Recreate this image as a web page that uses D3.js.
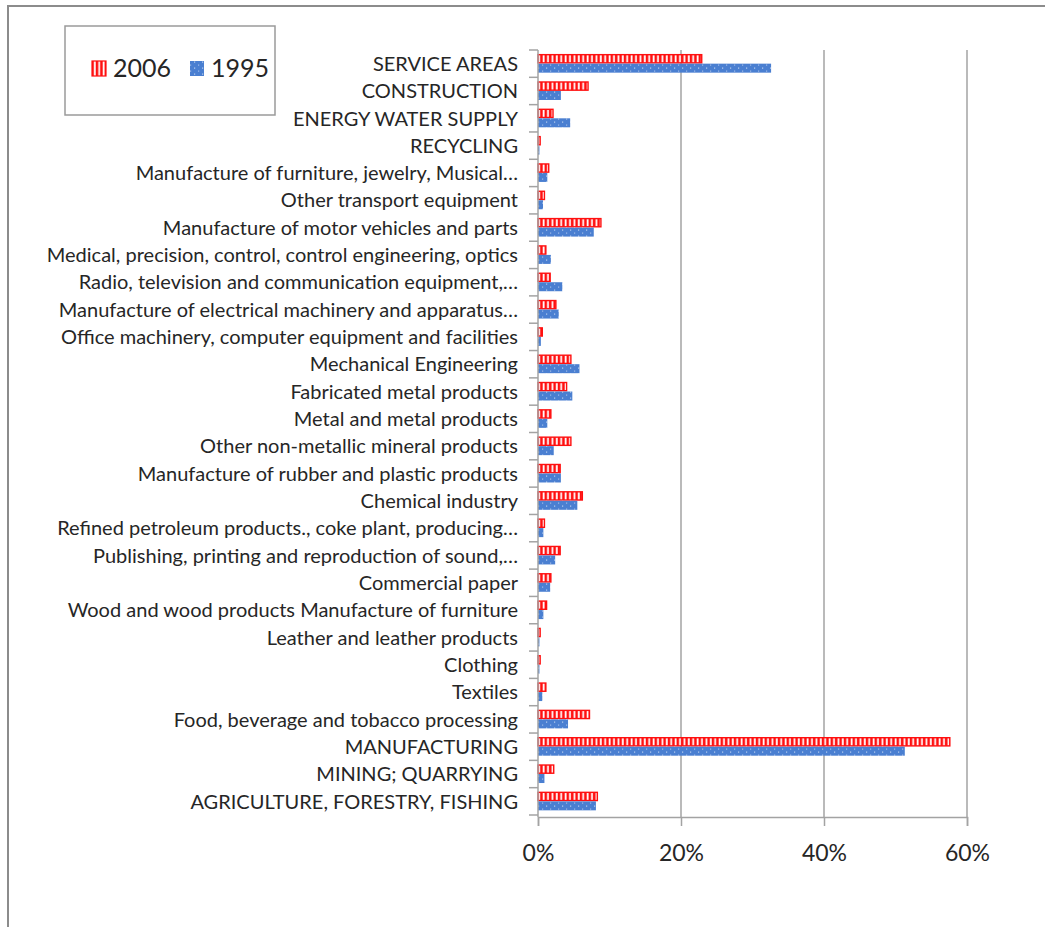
<!DOCTYPE html>
<html>
<head>
<meta charset="utf-8">
<script src="https://cdn.jsdelivr.net/npm/d3@7"></script>
<style>
  html, body { margin: 0; padding: 0; background: #fff; }
  svg { display: block; }
  text { font-family: Lato, "Open Sans", sans-serif; fill: #262626; }
</style>
</head>
<body>
<svg id="chart" width="1045" height="927"></svg>
<script>
// Industry categories, listed top to bottom
const categories = [
  "SERVICE AREAS",
  "CONSTRUCTION",
  "ENERGY WATER SUPPLY",
  "RECYCLING",
  "Manufacture of furniture, jewelry, Musical\u2026",
  "Other transport equipment",
  "Manufacture of motor vehicles and parts",
  "Medical, precision, control, control engineering, optics",
  "Radio, television and communication equipment,\u2026",
  "Manufacture of electrical machinery and apparatus\u2026",
  "Office machinery, computer equipment and facilities",
  "Mechanical Engineering",
  "Fabricated metal products",
  "Metal and metal products",
  "Other non-metallic mineral products",
  "Manufacture of rubber and plastic products",
  "Chemical industry",
  "Refined petroleum products., coke plant, producing\u2026",
  "Publishing, printing and reproduction of sound,\u2026",
  "Commercial paper",
  "Wood and wood products Manufacture of furniture",
  "Leather and leather products",
  "Clothing",
  "Textiles",
  "Food, beverage and tobacco processing",
  "MANUFACTURING",
  "MINING; QUARRYING",
  "AGRICULTURE, FORESTRY, FISHING"
];

// Share of total (%) in 2006
const values2006 = [
  22.9, 7.0, 2.1, 0.3, 1.5, 0.9, 8.8, 1.1, 1.7, 2.5,
  0.6, 4.6, 4.0, 1.8, 4.6, 3.1, 6.2, 0.9, 3.1, 1.8,
  1.2, 0.3, 0.3, 1.1, 7.2, 57.6, 2.2, 8.3
];

// Share of total (%) in 1995
const values1995 = [
  32.6, 3.2, 4.5, 0.2, 1.3, 0.7, 7.8, 1.8, 3.4, 2.9,
  0.4, 5.8, 4.8, 1.3, 2.2, 3.2, 5.5, 0.75, 2.4, 1.7,
  0.75, 0.2, 0.2, 0.6, 4.2, 51.3, 0.9, 8.1
];

const xTicks = [0, 20, 40, 60];
const seriesNames = ["2006", "1995"];

const svg = d3.select("#chart");
const gridColor = "#a3a3a3";
const red = "#ff1010";
const blue = "#4a7fd1";

// Fill patterns: red vertical stripes and dotted blue
const defs = svg.append("defs");
const pRed = defs.append("pattern")
  .attr("id", "stripes").attr("patternUnits", "userSpaceOnUse")
  .attr("width", 4.4).attr("height", 10);
pRed.append("rect").attr("width", 4.4).attr("height", 10).attr("fill", red);
pRed.append("rect").attr("x", 1.5).attr("width", 1.8).attr("height", 10).attr("fill", "#fff");

const pBlue = defs.append("pattern")
  .attr("id", "dots").attr("patternUnits", "userSpaceOnUse")
  .attr("width", 8).attr("height", 6);
pBlue.append("rect").attr("width", 8).attr("height", 6).attr("fill", blue);
pBlue.append("rect").attr("x", 2).attr("y", 1.5).attr("width", 1.2).attr("height", 1.2).attr("fill", "#b8cdee");
pBlue.append("rect").attr("x", 6).attr("y", 4.5).attr("width", 1.2).attr("height", 1.2).attr("fill", "#9fbbe8");

// Outer frame
svg.append("path")
  .attr("d", "M8,927 V6 H1045")
  .attr("fill", "none").attr("stroke", "#8c8c8c").attr("stroke-width", 2);

// Scales
const x = d3.scaleLinear().domain([0, 60]).range([538, 967]);
const y = d3.scaleBand().domain(categories).range([50, 815]).paddingInner(0).paddingOuter(0);
const barH = 9;

// Vertical gridlines
svg.append("g").selectAll("line")
  .data(xTicks.filter(t => t > 0))
  .join("line")
  .attr("x1", d => x(d)).attr("x2", d => x(d))
  .attr("y1", 50).attr("y2", 817)
  .attr("stroke", gridColor).attr("stroke-width", 1.5);

// Bars
const rows = categories.map((c, i) => ({ c, v06: values2006[i], v95: values1995[i] }));
const center = c => y(c) + y.bandwidth() / 2;

svg.append("g").selectAll("rect")
  .data(rows).join("rect")
  .attr("x", x(0))
  .attr("y", d => center(d.c) - barH)
  .attr("width", d => x(d.v06) - x(0))
  .attr("height", barH - 0.8)
  .attr("fill", "url(#stripes)")
  .attr("stroke", red).attr("stroke-width", 1.4);

svg.append("g").selectAll("rect")
  .data(rows).join("rect")
  .attr("x", x(0))
  .attr("y", d => center(d.c))
  .attr("width", d => x(d.v95) - x(0))
  .attr("height", barH)
  .attr("fill", "url(#dots)");

// Bottom axis
const xAxis = d3.axisBottom(x).tickValues(xTicks).tickFormat(d => d + "%")
  .tickSize(9).tickPadding(19);
const gx = svg.append("g").attr("transform", "translate(0,817)").call(xAxis);
gx.select(".domain").attr("stroke", gridColor).attr("stroke-width", 1.5);
gx.selectAll(".tick line").attr("stroke", gridColor).attr("stroke-width", 1.5);
gx.selectAll(".tick text")
  .attr("font-family", "Lato, sans-serif").attr("font-size", 23).attr("fill", "#262626");

// Left category axis (ticks at band boundaries)
const gy = svg.append("g").attr("transform", "translate(538,0)");
gy.append("line").attr("y1", 50).attr("y2", 817)
  .attr("stroke", gridColor).attr("stroke-width", 1.5);
const bounds = categories.map(c => y(c)).concat([y.range()[1]]);
gy.selectAll("line.tk").data(bounds).join("line").attr("class", "tk")
  .attr("x1", -9).attr("x2", 0).attr("y1", d => d).attr("y2", d => d)
  .attr("stroke", gridColor).attr("stroke-width", 1.5);
gy.selectAll("text").data(categories).join("text")
  .attr("x", -20).attr("y", d => center(d)).attr("dy", "0.36em")
  .attr("text-anchor", "end").attr("font-size", 20)
  .text(d => d);

// Legend
const lg = svg.append("g");
lg.append("rect").attr("x", 65).attr("y", 26).attr("width", 210).attr("height", 89)
  .attr("fill", "#fff").attr("stroke", "#9a9a9a").attr("stroke-width", 1.5);
const legendItems = [
  { name: seriesNames[0], fill: "url(#stripes)", stroke: red, x: 92 },
  { name: seriesNames[1], fill: "url(#dots)", stroke: "none", x: 190 }
];
legendItems.forEach(it => {
  lg.append("rect").attr("x", it.x).attr("y", 61).attr("width", 14).attr("height", 15)
    .attr("fill", it.fill).attr("stroke", it.stroke).attr("stroke-width", 1.2);
  lg.append("text").attr("x", it.x + 21).attr("y", 77)
    .attr("font-size", 25).text(it.name);
});
</script>
</body>
</html>
